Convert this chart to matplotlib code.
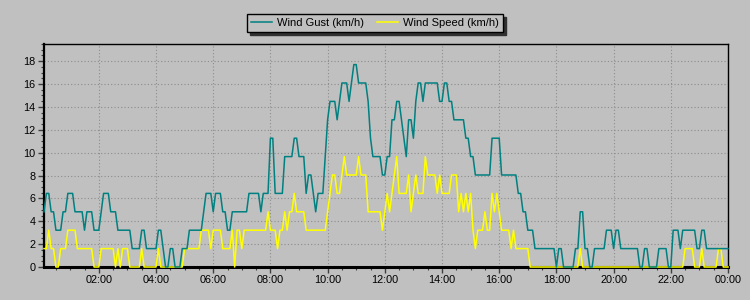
import matplotlib
matplotlib.use("Agg")
import matplotlib.pyplot as plt
from matplotlib.ticker import MultipleLocator, FixedLocator
import numpy as np

plt.rcParams["font.family"] = ["Liberation Sans", "DejaVu Sans"]

# 5-minute readings from 00:05 to 24:00, recorded in whole mph, shown in km/h
MPH_TO_KMH = 1.609

# one row per hour (12 readings)
gust_mph = [
    3, 4, 4, 3, 3, 2, 2, 2, 3, 3, 4, 4,
    4, 3, 3, 3, 3, 2, 3, 3, 3, 2, 2, 2,
    3, 4, 4, 4, 3, 3, 3, 2, 2, 2, 2, 2,
    2, 1, 1, 1, 1, 2, 2, 1, 1, 1, 1, 1,
    2, 2, 1, 0, 0, 1, 1, 0, 0, 0, 1, 1,
    1, 2, 2, 2, 2, 2, 2, 3, 4, 4, 4, 3,
    4, 4, 4, 3, 3, 2, 2, 3, 3, 3, 3, 3,
    3, 3, 4, 4, 4, 4, 4, 3, 4, 4, 4, 7,
    7, 4, 4, 4, 4, 6, 6, 6, 6, 7, 7, 6,
    6, 6, 4, 5, 5, 4, 3, 4, 4, 4, 6, 8,
    9, 9, 9, 8, 9, 10, 10, 10, 9, 10, 11, 11,
    10, 10, 10, 10, 9, 7, 6, 6, 6, 6, 5, 5,
    6, 6, 8, 8, 9, 9, 8, 7, 6, 8, 8, 7,
    9, 10, 10, 9, 10, 10, 10, 10, 10, 10, 9, 9,
    10, 10, 9, 9, 8, 8, 8, 8, 8, 7, 7, 6,
    6, 5, 5, 5, 5, 5, 5, 5, 7, 7, 7, 7,
    5, 5, 5, 5, 5, 5, 5, 4, 4, 3, 3, 2,
    2, 2, 1, 1, 1, 1, 1, 1, 1, 1, 1, 0,
    1, 1, 0, 0, 0, 0, 0, 1, 1, 3, 3, 1,
    1, 0, 0, 1, 1, 1, 1, 1, 2, 2, 2, 1,
    2, 2, 1, 1, 1, 1, 1, 1, 1, 1, 0, 0,
    1, 1, 0, 0, 0, 0, 1, 1, 1, 1, 0, 0,
    2, 2, 2, 1, 2, 2, 2, 2, 2, 2, 1, 1,
    2, 2, 1, 1, 1, 1, 1, 1, 1, 1, 1, 1,
]

speed_mph = [
    1, 1, 2, 1, 1, 0, 0, 1, 1, 1, 2, 2,
    2, 2, 1, 1, 1, 1, 1, 1, 1, 0, 0, 0,
    1, 1, 1, 1, 1, 1, 0, 1, 0, 1, 1, 1,
    0, 0, 0, 0, 0, 1, 0, 0, 0, 0, 0, 0,
    1, 0, 0, 0, 0, 0, 0, 0, 0, 0, 0, 1,
    1, 1, 1, 1, 1, 1, 2, 2, 2, 2, 1, 2,
    2, 2, 2, 1, 1, 1, 1, 2, 0, 2, 2, 1,
    2, 2, 2, 2, 2, 2, 2, 2, 2, 2, 3, 2,
    2, 2, 1, 2, 2, 3, 2, 3, 3, 4, 3, 3,
    3, 3, 2, 2, 2, 2, 2, 2, 2, 2, 2, 3,
    4, 5, 5, 4, 4, 5, 6, 5, 5, 5, 5, 5,
    6, 5, 5, 5, 3, 3, 3, 3, 3, 3, 2, 3,
    4, 3, 4, 5, 6, 4, 4, 4, 4, 5, 3, 4,
    5, 4, 4, 4, 6, 5, 5, 5, 5, 4, 5, 4,
    4, 4, 4, 5, 5, 5, 3, 4, 3, 4, 3, 4,
    2, 1, 2, 2, 2, 3, 2, 2, 4, 3, 4, 3,
    2, 2, 2, 2, 1, 2, 1, 1, 1, 1, 1, 1,
    0, 0, 0, 0, 0, 0, 0, 0, 0, 0, 0, 0,
    0, 0, 0, 0, 0, 0, 0, 0, 0, 1, 0, 0,
    0, 0, 0, 0, 0, 0, 0, 0, 0, 0, 0, 0,
    0, 0, 0, 0, 0, 0, 0, 0, 0, 0, 0, 0,
    0, 0, 0, 0, 0, 0, 0, 0, 0, 0, 0, 0,
    0, 0, 0, 0, 0, 1, 1, 1, 1, 0, 0, 0,
    1, 0, 0, 0, 0, 0, 0, 1, 1, 0, 0, 0,
]

tick_hours = [2, 4, 6, 8, 10, 12, 14, 16, 18, 20, 22, 24]
tick_labels = ["02:00", "04:00", "06:00", "08:00", "10:00", "12:00",
               "14:00", "16:00", "18:00", "20:00", "22:00", "00:00"]
y_ticks = [0, 2, 4, 6, 8, 10, 12, 14, 16, 18]

BG = "#C0C0C0"
GUST_C = "#008080"
SPEED_C = "#FFFF00"

gust = np.array(gust_mph) * MPH_TO_KMH
speed = np.array(speed_mph) * MPH_TO_KMH
hours = np.arange(1, len(gust) + 1) * 5 / 60.0

fig = plt.figure(figsize=(7.5, 3.0), dpi=100, facecolor=BG)
ax = fig.add_axes([44 / 750, 33 / 300, 684 / 750, 223 / 300], facecolor=BG)

ax.plot(hours, gust, color=GUST_C, lw=1.1, label="Wind Gust (km/h)", zorder=4, clip_on=False)
ax.plot(hours, speed, color=SPEED_C, lw=1.1, label="Wind Speed (km/h)", zorder=3, clip_on=False)

ax.set_xlim(hours[0], 24)
ax.set_ylim(0, 19.5)

ax.xaxis.set_major_locator(FixedLocator(tick_hours))
ax.set_xticklabels(tick_labels)
ax.xaxis.set_minor_locator(MultipleLocator(0.5))
ax.yaxis.set_major_locator(FixedLocator(y_ticks))
ax.yaxis.set_minor_locator(MultipleLocator(0.5))

ax.tick_params(axis="both", which="major", labelsize=7.8, length=4, width=1, color="#404040", pad=2)
ax.tick_params(axis="both", which="minor", length=2, width=0.8, color="#404040")

ax.grid(True, which="major", color="#8c8c8c", linestyle=(0, (1, 2)), linewidth=0.8)

for side in ["top", "right"]:
    ax.spines[side].set_linewidth(1)
ax.spines["left"].set_linewidth(1.6)
ax.spines["bottom"].set_linewidth(2.2)
for s in ax.spines.values():
    s.set_color("black")

leg = fig.legend(loc="center", bbox_to_anchor=(0.5, 0.923), ncol=2, fontsize=8,
                 frameon=True, fancybox=False, edgecolor="black", facecolor=BG,
                 framealpha=1, handlelength=1.9, columnspacing=1.1, handletextpad=0.5,
                 borderpad=0.35, shadow={"color": "#303030", "alpha": 1})
leg.get_frame().set_linewidth(1)

fig.savefig("out.png", dpi=100, facecolor=BG)
